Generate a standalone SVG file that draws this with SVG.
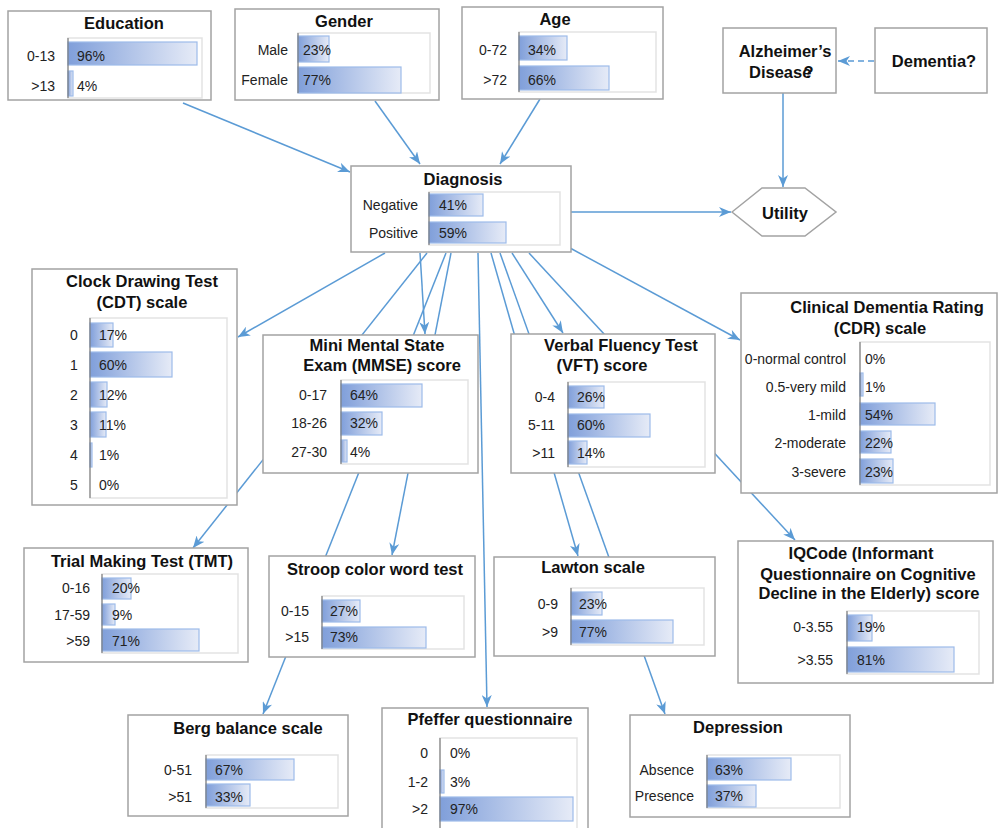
<svg xmlns="http://www.w3.org/2000/svg" width="998" height="828" viewBox="0 0 998 828">
<defs>
  <linearGradient id="barFill" x1="0" y1="0" x2="1" y2="0">
    <stop offset="0" stop-color="#809fda"/>
    <stop offset="1" stop-color="#e6ebf7"/>
  </linearGradient>
  <marker id="arrow" viewBox="0 0 12 10" refX="12" refY="5" markerWidth="12" markerHeight="10" markerUnits="userSpaceOnUse" orient="auto">
    <path d="M0,0 L12,5 L0,10 L3.5,5 z" fill="#5b9bd5"/>
  </marker>
</defs>
<style>
  .box{fill:#fff;stroke:#a3a3a3;stroke-width:1.5}
  .chart{fill:#fff;stroke:#e3e3e3;stroke-width:1.5}
  .axis{stroke:#6b6b6b;stroke-width:1}
  .bar{fill:url(#barFill);stroke:#9dbbe9;stroke-width:1.2}
  .title{font-family:"Liberation Sans",Arial,sans-serif;font-weight:bold;font-size:16.5px;fill:#111;text-anchor:middle}
  .lbl{font-family:"Liberation Sans",Arial,sans-serif;font-size:14px;fill:#222;text-anchor:end}
  .pct{font-family:"Liberation Sans",Arial,sans-serif;font-size:14px;fill:#222}
  .c{text-anchor:middle}
  .link{fill:none;stroke:#5b9bd5;stroke-width:1.5;marker-end:url(#arrow)}
  .dash{stroke-dasharray:6,4}
</style>
<rect width="998" height="828" fill="#fff"/>

<!-- connectors, drawn first so node boxes sit on top -->
<g id="connectors">
  <path class="link" d="M183,103 L350,172"/>
  <path class="link" d="M375,101 L420,164"/>
  <path class="link" d="M540,99 L500,164"/>
  <path class="link" d="M571,212 L731,212"/>
  <path class="link" d="M783,93 L783,187"/>
  <path class="link dash" d="M874,61 L838,61"/>
  <path class="link" d="M385,253 L238,337"/>
  <path class="link" d="M427,253 L193,548"/>
  <path class="link" d="M420,253 L425,334"/>
  <path class="link" d="M446,253 L263,714"/>
  <path class="link" d="M451,253 L392,555"/>
  <path class="link" d="M478,253 L487,707"/>
  <path class="link" d="M491,253 L578,556"/>
  <path class="link" d="M500,253 L665,714"/>
  <path class="link" d="M512,253 L563,333"/>
  <path class="link" d="M529,253 L795,540"/>
  <path class="link" d="M570,248 L740,340"/>
</g>

<g id="education">
  <rect class="box" x="8" y="11" width="203" height="89"/>
  <text class="title" x="124" y="29">Education</text>
  <rect class="chart" x="68" y="38" width="134" height="60"/>
  <rect class="bar" x="68" y="42" width="129" height="23"/>
  <rect class="bar" x="68" y="71" width="5" height="25"/>
  <line class="axis" x1="68" y1="38" x2="68" y2="98"/>
  <text class="lbl" x="55" y="61">0-13</text>
  <text class="lbl" x="55" y="91">&gt;13</text>
  <text class="pct" x="77" y="61">96%</text>
  <text class="pct" x="77" y="91">4%</text>
</g>

<g id="gender">
  <rect class="box" x="235" y="9" width="204" height="91"/>
  <text class="title" x="344" y="27">Gender</text>
  <rect class="chart" x="298" y="33" width="132" height="60"/>
  <rect class="bar" x="298" y="36" width="31" height="26"/>
  <rect class="bar" x="298" y="67" width="103" height="26"/>
  <line class="axis" x1="298" y1="33" x2="298" y2="93"/>
  <text class="lbl" x="288" y="55">Male</text>
  <text class="lbl" x="288" y="85">Female</text>
  <text class="pct" x="303" y="55">23%</text>
  <text class="pct" x="303" y="85">77%</text>
</g>

<g id="age">
  <rect class="box" x="462" y="7" width="201" height="92"/>
  <text class="title" x="555" y="25">Age</text>
  <rect class="chart" x="519" y="32" width="137" height="60"/>
  <rect class="bar" x="519" y="36" width="48" height="24"/>
  <rect class="bar" x="519" y="66" width="90" height="24"/>
  <line class="axis" x1="519" y1="32" x2="519" y2="92"/>
  <text class="lbl" x="507" y="55">0-72</text>
  <text class="lbl" x="507" y="85">&gt;72</text>
  <text class="pct" x="528" y="55">34%</text>
  <text class="pct" x="528" y="85">66%</text>
</g>

<g id="alzheimers">
  <rect class="box" x="723" y="28" width="113" height="65"/>
  <text class="title" x="785" y="57">Alzheimer’s</text>
  <text class="title" x="749" y="78" style="text-anchor:start">Diseas<tspan>e</tspan><tspan dx="-8">?</tspan></text>
</g>

<g id="dementia">
  <rect class="box" x="875" y="28" width="112" height="65"/>
  <text class="title" x="934" y="67">Dementia?</text>
</g>

<g id="utility">
  <polygon class="box" points="732,212 762,188 805,188 836,212 805,236 762,236"/>
  <text class="title" x="785" y="219">Utility</text>
</g>

<g id="diagnosis">
  <rect class="box" x="351" y="166" width="220" height="86"/>
  <text class="title" x="463" y="185">Diagnosis</text>
  <rect class="chart" x="429" y="192" width="131" height="53"/>
  <rect class="bar" x="429" y="194" width="54" height="22"/>
  <rect class="bar" x="429" y="222" width="77" height="21"/>
  <line class="axis" x1="429" y1="192" x2="429" y2="245"/>
  <text class="lbl" x="418" y="210">Negative</text>
  <text class="lbl" x="418" y="238">Positive</text>
  <text class="pct" x="439" y="210">41%</text>
  <text class="pct" x="439" y="238">59%</text>
</g>

<g id="cdt">
  <rect class="box" x="32" y="269" width="205" height="236"/>
  <text class="title" x="142" y="287">Clock Drawing Test</text>
  <text class="title" x="142" y="308">(CDT) scale</text>
  <rect class="chart" x="90" y="318" width="137" height="180"/>
  <rect class="bar" x="90" y="323" width="23" height="24"/>
  <rect class="bar" x="90" y="352" width="82" height="25"/>
  <rect class="bar" x="90" y="382" width="17" height="25"/>
  <rect class="bar" x="90" y="412" width="16" height="25"/>
  <rect class="bar" x="90" y="443" width="2" height="24"/>
  <line class="axis" x1="90" y1="318" x2="90" y2="498"/>
  <text class="lbl c" x="74" y="340">0</text>
  <text class="lbl c" x="74" y="370">1</text>
  <text class="lbl c" x="74" y="400">2</text>
  <text class="lbl c" x="74" y="430">3</text>
  <text class="lbl c" x="74" y="460">4</text>
  <text class="lbl c" x="74" y="490">5</text>
  <text class="pct" x="99" y="340">17%</text>
  <text class="pct" x="99" y="370">60%</text>
  <text class="pct" x="99" y="400">12%</text>
  <text class="pct" x="99" y="430">11%</text>
  <text class="pct" x="99" y="460">1%</text>
  <text class="pct" x="99" y="490">0%</text>
</g>

<g id="mmse">
  <rect class="box" x="263" y="335" width="215" height="138"/>
  <text class="title" x="377" y="351">Mini Mental State</text>
  <text class="title" x="382" y="371">Exam (MMSE) score</text>
  <rect class="chart" x="341" y="380" width="127" height="84"/>
  <rect class="bar" x="341" y="384" width="81" height="23"/>
  <rect class="bar" x="341" y="412" width="41" height="23"/>
  <rect class="bar" x="341" y="440" width="6" height="22"/>
  <line class="axis" x1="341" y1="380" x2="341" y2="464"/>
  <text class="lbl" x="327" y="400">0-17</text>
  <text class="lbl" x="327" y="428">18-26</text>
  <text class="lbl" x="327" y="457">27-30</text>
  <text class="pct" x="350" y="400">64%</text>
  <text class="pct" x="350" y="428">32%</text>
  <text class="pct" x="350" y="457">4%</text>
</g>

<g id="vft">
  <rect class="box" x="511" y="334" width="204" height="139"/>
  <text class="title" x="621" y="351">Verbal Fluency Test</text>
  <text class="title" x="602" y="371">(VFT) score</text>
  <rect class="chart" x="568" y="382" width="137" height="85"/>
  <rect class="bar" x="568" y="386" width="36" height="22"/>
  <rect class="bar" x="568" y="414" width="82" height="23"/>
  <rect class="bar" x="568" y="441" width="19" height="23"/>
  <line class="axis" x1="568" y1="382" x2="568" y2="467"/>
  <text class="lbl" x="555" y="402">0-4</text>
  <text class="lbl" x="555" y="430">5-11</text>
  <text class="lbl" x="555" y="458">&gt;11</text>
  <text class="pct" x="577" y="402">26%</text>
  <text class="pct" x="577" y="430">60%</text>
  <text class="pct" x="577" y="458">14%</text>
</g>

<g id="cdr">
  <rect class="box" x="741" y="293" width="256" height="200"/>
  <text class="title" x="887" y="313">Clinical Dementia Rating</text>
  <text class="title" x="880" y="334">(CDR) scale</text>
  <rect class="chart" x="860" y="342" width="130" height="143"/>
  <rect class="bar" x="860" y="373" width="3" height="23"/>
  <rect class="bar" x="860" y="403" width="75" height="22"/>
  <rect class="bar" x="860" y="431" width="31" height="22"/>
  <rect class="bar" x="860" y="459" width="33" height="24"/>
  <line class="axis" x1="860" y1="342" x2="860" y2="485"/>
  <text class="lbl" x="846" y="364">0-normal control</text>
  <text class="lbl" x="846" y="392">0.5-very mild</text>
  <text class="lbl" x="846" y="420">1-mild</text>
  <text class="lbl" x="846" y="448">2-moderate</text>
  <text class="lbl" x="846" y="477">3-severe</text>
  <text class="pct" x="865" y="364">0%</text>
  <text class="pct" x="865" y="392">1%</text>
  <text class="pct" x="865" y="420">54%</text>
  <text class="pct" x="865" y="448">22%</text>
  <text class="pct" x="865" y="477">23%</text>
</g>

<g id="tmt">
  <rect class="box" x="24" y="548" width="224" height="114"/>
  <text class="title" x="142" y="567">Trial Making Test (TMT)</text>
  <rect class="chart" x="102" y="574" width="136" height="79"/>
  <rect class="bar" x="102" y="578" width="29" height="21"/>
  <rect class="bar" x="102" y="604" width="13" height="21"/>
  <rect class="bar" x="102" y="629" width="97" height="22"/>
  <line class="axis" x1="102" y1="574" x2="102" y2="653"/>
  <text class="lbl" x="90" y="593">0-16</text>
  <text class="lbl" x="90" y="620">17-59</text>
  <text class="lbl" x="90" y="646">&gt;59</text>
  <text class="pct" x="112" y="593">20%</text>
  <text class="pct" x="112" y="620">9%</text>
  <text class="pct" x="112" y="646">71%</text>
</g>

<g id="stroop">
  <rect class="box" x="269" y="556" width="206" height="101"/>
  <text class="title" x="375" y="575">Stroop color word test</text>
  <rect class="chart" x="322" y="596" width="142" height="53"/>
  <rect class="bar" x="322" y="600" width="38" height="22"/>
  <rect class="bar" x="322" y="627" width="104" height="21"/>
  <line class="axis" x1="322" y1="596" x2="322" y2="649"/>
  <text class="lbl" x="309" y="616">0-15</text>
  <text class="lbl" x="309" y="642">&gt;15</text>
  <text class="pct" x="330" y="616">27%</text>
  <text class="pct" x="330" y="642">73%</text>
</g>

<g id="lawton">
  <rect class="box" x="494" y="557" width="221" height="99"/>
  <text class="title" x="593" y="573">Lawton scale</text>
  <rect class="chart" x="571" y="588" width="133" height="57"/>
  <rect class="bar" x="571" y="592" width="31" height="23"/>
  <rect class="bar" x="571" y="620" width="102" height="23"/>
  <line class="axis" x1="571" y1="588" x2="571" y2="645"/>
  <text class="lbl" x="558" y="609">0-9</text>
  <text class="lbl" x="558" y="637">&gt;9</text>
  <text class="pct" x="579" y="609">23%</text>
  <text class="pct" x="579" y="637">77%</text>
</g>

<g id="iqcode">
  <rect class="box" x="738" y="541" width="255" height="142"/>
  <text class="title" x="861" y="559">IQCode (Informant</text>
  <text class="title" x="868" y="580">Questionnaire on Cognitive</text>
  <text class="title" x="869" y="599">Decline in the Elderly) score</text>
  <rect class="chart" x="847" y="611" width="132" height="63"/>
  <rect class="bar" x="847" y="615" width="25" height="26"/>
  <rect class="bar" x="847" y="647" width="107" height="25"/>
  <line class="axis" x1="847" y1="611" x2="847" y2="674"/>
  <text class="lbl" x="833" y="632">0-3.55</text>
  <text class="lbl" x="833" y="665">&gt;3.55</text>
  <text class="pct" x="857" y="632">19%</text>
  <text class="pct" x="857" y="665">81%</text>
</g>

<g id="berg">
  <rect class="box" x="128" y="715" width="220" height="101"/>
  <text class="title" x="248" y="734">Berg balance scale</text>
  <rect class="chart" x="206" y="755" width="132" height="53"/>
  <rect class="bar" x="206" y="759" width="88" height="21"/>
  <rect class="bar" x="206" y="784" width="44" height="22"/>
  <line class="axis" x1="206" y1="755" x2="206" y2="808"/>
  <text class="lbl" x="192" y="775">0-51</text>
  <text class="lbl" x="192" y="802">&gt;51</text>
  <text class="pct" x="215" y="775">67%</text>
  <text class="pct" x="215" y="802">33%</text>
</g>

<g id="pfeffer">
  <rect class="box" x="382" y="708" width="206" height="126"/>
  <text class="title" x="490" y="725">Pfeffer questionnaire</text>
  <rect class="chart" x="440" y="738" width="137" height="94"/>
  <rect class="bar" x="440" y="770" width="4" height="23"/>
  <rect class="bar" x="440" y="797" width="133" height="24"/>
  <line class="axis" x1="440" y1="738" x2="440" y2="832"/>
  <text class="lbl" x="428" y="758">0</text>
  <text class="lbl" x="428" y="787">1-2</text>
  <text class="lbl" x="428" y="814">&gt;2</text>
  <text class="pct" x="450" y="758">0%</text>
  <text class="pct" x="450" y="787">3%</text>
  <text class="pct" x="450" y="814">97%</text>
</g>

<g id="depression">
  <rect class="box" x="630" y="715" width="220" height="102"/>
  <text class="title" x="738" y="733">Depression</text>
  <rect class="chart" x="707" y="755" width="133" height="53"/>
  <rect class="bar" x="707" y="758" width="84" height="22"/>
  <rect class="bar" x="707" y="785" width="49" height="22"/>
  <line class="axis" x1="707" y1="755" x2="707" y2="808"/>
  <text class="lbl" x="694" y="775">Absence</text>
  <text class="lbl" x="694" y="801">Presence</text>
  <text class="pct" x="715" y="775">63%</text>
  <text class="pct" x="715" y="801">37%</text>
</g>
</svg>
